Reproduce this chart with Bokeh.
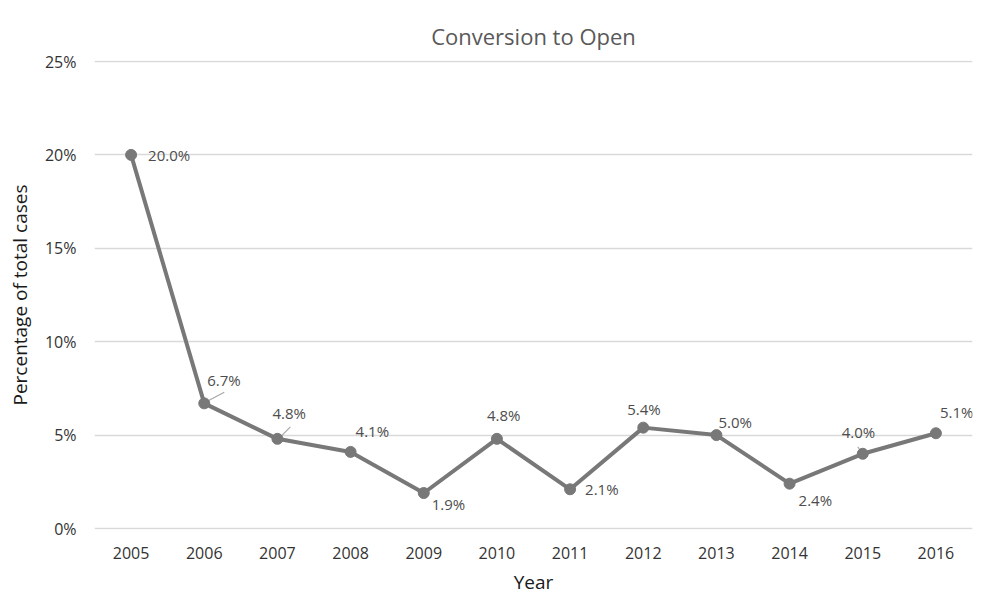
from bokeh.plotting import figure
from bokeh.models import ColumnDataSource, FixedTicker, PrintfTickFormatter, Range1d
from bokeh.core.properties import value
from bokeh.embed import file_html
from bokeh.resources import INLINE

# Share of total cases converted to open, per year
years = ["2005", "2006", "2007", "2008", "2009", "2010",
         "2011", "2012", "2013", "2014", "2015", "2016"]
pct = [20.0, 6.7, 4.8, 4.1, 1.9, 4.8, 2.1, 5.4, 5.0, 2.4, 4.0, 5.1]
y_ticks = [0, 5, 10, 15, 20, 25]

# label placement, screen pixels from each point (left-aligned text, middle baseline)
label_dx = [17, 3, -5, 5, 8, -10, 15, -16, 2, 9, -21, 4]
label_dy = [0, 23, 26, 21, -11, 24, 0, 19, 13, -16, 22, 21]

FONT = "Open Sans"
LINE = "#787878"
TEXT = "#4d4d4d"

W, H = 986, 597
TOP, BOTTOM, LEFT, RIGHT = 60, 68, 94, 14
frame_h = H - TOP - BOTTOM
frame_w = W - LEFT - RIGHT
py = 25 / (frame_h - 2)       # percent per pixel
px = len(years) / frame_w     # category units per pixel

p = figure(width=W, height=H, output_backend="svg", toolbar_location=None,
           x_range=Range1d(-0.5, len(years) - 0.5),
           y_range=Range1d(-py, 25 + py),
           min_border_left=LEFT, min_border_right=RIGHT, min_border_top=TOP,
           min_border_bottom=BOTTOM)
p.outline_line_color = None
p.background_fill_color = "white"
p.border_fill_color = "white"

p.title.text = "Conversion to Open"
p.title.align = "center"
p.title.text_font = FONT
p.title.text_font_size = "22px"
p.title.text_font_style = "normal"
p.title.text_color = "#595959"
p.title.offset = 0
p.title.standoff = 20

x = list(range(len(years)))
src = ColumnDataSource(dict(x=x, y=pct, txt=[f"{v:.1f}%" for v in pct],
                            dx=label_dx, dy=[-d for d in label_dy]))

# short leader lines toward displaced labels
leaders = [(1, (3, 2), (20, 11)), (2, (3, 2), (13, 12)), (10, (-3, 4), (-5, 7))]
lx0 = [x[i] + a[0] * px for i, a, b in leaders]
ly0 = [pct[i] + a[1] * py for i, a, b in leaders]
lx1 = [x[i] + b[0] * px for i, a, b in leaders]
ly1 = [pct[i] + b[1] * py for i, a, b in leaders]
p.segment(lx0, ly0, lx1, ly1, line_color="#a6a6a6", line_width=1.2)

p.line("x", "y", source=src, line_color=LINE, line_width=4, line_join="round")
p.scatter("x", "y", source=src, size=11, fill_color=LINE, line_color=LINE)

p.text("x", "y", text="txt", source=src, x_offset="dx", y_offset="dy",
       text_font=value(FONT), text_font_size="15px", text_color=TEXT,
       text_align="left", text_baseline="middle")

p.xaxis.ticker = FixedTicker(ticks=x)
p.xaxis.major_label_overrides = {i: y for i, y in enumerate(years)}
p.yaxis.ticker = FixedTicker(ticks=y_ticks)
p.yaxis.formatter = PrintfTickFormatter(format="%d%%")

for ax in (p.xaxis, p.yaxis):
    ax.axis_line_color = None
    ax.major_tick_line_color = None
    ax.minor_tick_line_color = None
    ax.major_tick_out = 0
    ax.major_tick_in = 0
    ax.major_label_text_font = FONT
    ax.major_label_text_font_size = "16px"
    ax.major_label_text_color = "#333333"
    ax.axis_label_text_font = FONT
    ax.axis_label_text_font_size = "19px"
    ax.axis_label_text_font_style = "normal"
    ax.axis_label_text_color = "#1a1a1a"

p.xaxis.axis_label = "Year"
p.yaxis.axis_label = "Percentage of total cases"
p.xaxis.major_label_standoff = 17
p.yaxis.major_label_standoff = 18
p.xaxis.axis_label_standoff = 7
p.yaxis.axis_label_standoff = 9

p.xgrid.grid_line_color = None
p.ygrid.ticker = FixedTicker(ticks=y_ticks)
p.ygrid.grid_line_color = "#d9d9d9"
p.ygrid.grid_line_width = 1.5

open("out.html", "w").write(file_html(p, INLINE))
